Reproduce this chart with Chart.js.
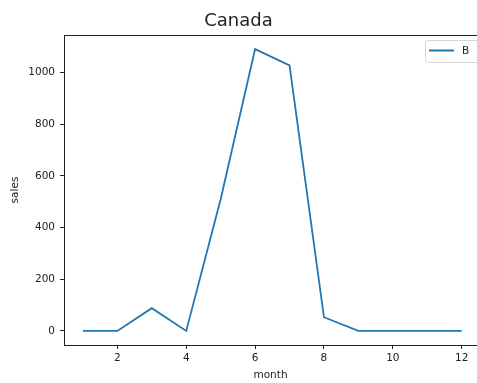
<!DOCTYPE html>
<html>
<head>
<meta charset="utf-8">
<script src="https://cdn.jsdelivr.net/npm/chart.js@4.4.1/dist/chart.umd.min.js"></script>
<style>
  html, body { margin: 0; padding: 0; background: #fff; }
  #wrap { width: 477px; height: 383px; }
</style>
</head>
<body>
<div id="wrap"><canvas id="c" width="477" height="383"></canvas></div>
<script>
const months = [1, 2, 3, 4, 5, 6, 7, 8, 9, 10, 11, 12];
const salesB = [0, 0, 88, 0, 510, 1091, 1028, 53, 0, 0, 0, 0];
const xTicks = [2, 4, 6, 8, 10, 12];
const yTicks = [0, 200, 400, 600, 800, 1000];
const seriesName = 'B';
const chartTitle = 'Canada';

const FONT = 'DejaVu Sans';
const LINE_COLOR = '#1f77b4';

const framePlugin = {
  id: 'frame',
  afterDraw(chart) {
    const { ctx, chartArea } = chart;
    ctx.save();
    ctx.strokeStyle = '#222';
    ctx.lineWidth = 1;
    ctx.beginPath();
    ctx.moveTo(chartArea.left, chartArea.top + 0.5);
    ctx.lineTo(chartArea.right, chartArea.top + 0.5);
    ctx.stroke();
    // legend box
    const bx = 425.5, by = 40.5, bw = 60, bh = 22;
    ctx.fillStyle = 'rgba(255,255,255,0.9)';
    ctx.strokeStyle = '#d6d6d6';
    ctx.beginPath();
    if (ctx.roundRect) ctx.roundRect(bx, by, bw, bh, 3); else ctx.rect(bx, by, bw, bh);
    ctx.fill();
    ctx.stroke();
    ctx.strokeStyle = LINE_COLOR;
    ctx.lineWidth = 2;
    ctx.beginPath();
    ctx.moveTo(429, 50.5);
    ctx.lineTo(454, 50.5);
    ctx.stroke();
    ctx.fillStyle = '#222';
    ctx.font = '10.5px ' + FONT;
    ctx.textBaseline = 'middle';
    ctx.textAlign = 'left';
    ctx.fillText(seriesName, 462, 51);
    ctx.restore();
  }
};

new Chart(document.getElementById('c'), {
  type: 'line',
  data: {
    datasets: [{
      label: seriesName,
      data: months.map((m, i) => ({ x: m, y: salesB[i] })),
      borderColor: LINE_COLOR,
      borderWidth: 1.8,
      pointRadius: 0,
      tension: 0,
      fill: false
    }]
  },
  options: {
    responsive: false,
    animation: false,
    devicePixelRatio: 1,
    layout: { padding: { left: 0, right: 0, top: 0, bottom: 0 } },
    plugins: {
      legend: { display: false },
      tooltip: { enabled: false },
      title: {
        display: true,
        text: chartTitle,
        color: '#222',
        font: { family: FONT, size: 18, weight: 'normal' },
        padding: { top: 11, bottom: 2.4 }
      }
    },
    scales: {
      x: {
        type: 'linear',
        min: 0.45,
        max: 12.445,
        afterBuildTicks(scale) { scale.ticks = xTicks.map(v => ({ value: v })); },
        afterFit(scale) { scale.height = 38; },
        grid: { drawOnChartArea: false, drawTicks: true, tickLength: 4, color: '#222', tickWidth: 1 },
        border: { display: true, color: '#222', width: 1 },
        ticks: { color: '#222', font: { family: FONT, size: 10.5 }, padding: 3, maxRotation: 0, autoSkip: false,
                 callback: v => String(v) },
        title: { display: true, text: 'month', color: '#222', font: { family: FONT, size: 10.5 }, padding: { top: 0, bottom: 1 } }
      },
      y: {
        type: 'linear',
        min: -54.5,
        max: 1145.5,
        afterBuildTicks(scale) { scale.ticks = yTicks.map(v => ({ value: v })); },
        afterFit(scale) { scale.width = 64; },
        grid: { drawOnChartArea: false, drawTicks: true, tickLength: 4, color: '#222', tickWidth: 1 },
        border: { display: true, color: '#222', width: 1 },
        ticks: { color: '#222', font: { family: FONT, size: 10.5 }, padding: 5, autoSkip: false,
                 callback: v => String(v) },
        title: { display: true, text: 'sales', color: '#222', font: { family: FONT, size: 10.5 }, padding: { top: 9, bottom: 0 } }
      }
    }
  },
  plugins: [framePlugin]
});
</script>
</body>
</html>
